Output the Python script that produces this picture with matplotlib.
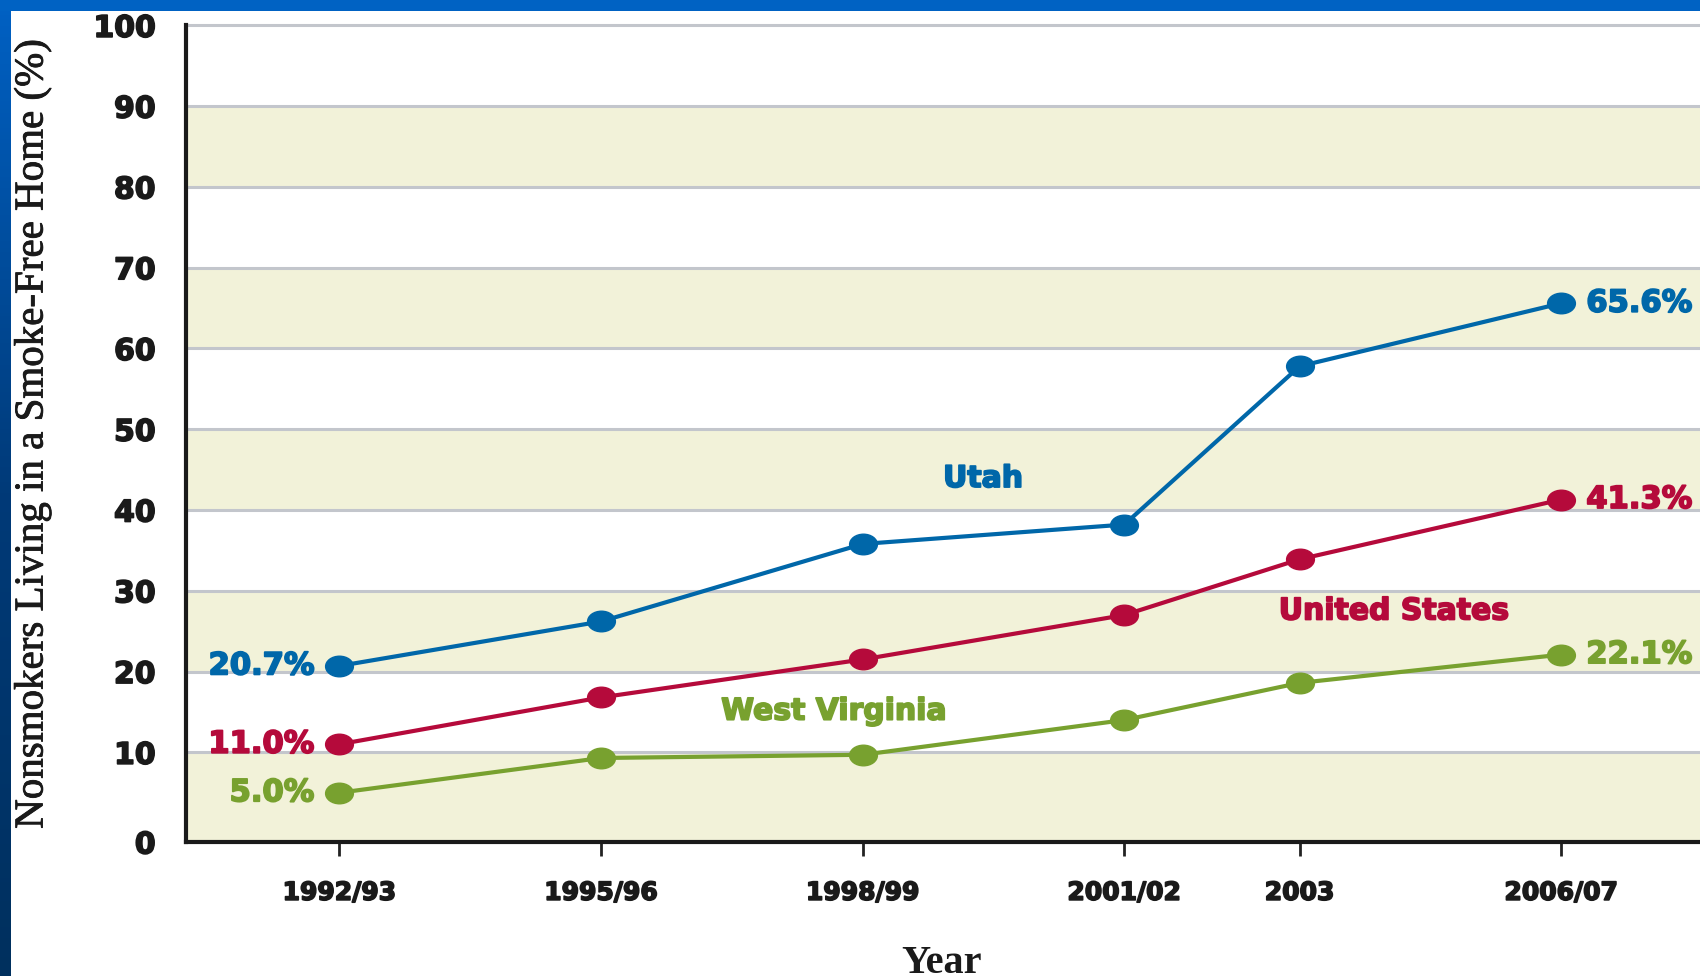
import matplotlib.patheffects as pe
import matplotlib.pyplot as plt
import numpy as np
from matplotlib.colors import LinearSegmentedColormap
from matplotlib.path import Path

plt.switch_backend("agg")

# data
periods = ["1992/93", "1995/96", "1998/99", "2001/02", "2003", "2006/07"]
utah = [20.7, 26.2, 35.8, 38.2, 57.8, 65.6]
usa = [11.0, 16.8, 21.5, 27.0, 33.9, 41.3]
wva = [5.0, 9.3, 9.7, 14.0, 18.6, 22.1]
yticks = [0, 10, 20, 30, 40, 50, 60, 70, 80, 90, 100]

# survey positions on the x axis (2003 sits closer to 2001/02)
xpos = [0, 1, 2, 3, 3.67, 4.67]
YLO = -1.1  # the bottom rule sits a little under zero

BLUE = "#0067A9"
RED = "#B50A3B"
GREEN = "#78A12F"
BEIGE = "#F2F2D9"
GRID = "#C3C6CC"


def heavy(color, w=1.3):
    # thicken DejaVu Bold a little so it reads like a black weight
    return [pe.withStroke(linewidth=w, foreground=color)]


# slightly flattened dot used on the lines
circ = Path.unit_circle()
ellipse = Path(circ.vertices * [1.35, 1.0], circ.codes)

fig = plt.figure(figsize=(17, 9.76), dpi=100)
fig.patch.set_facecolor("white")

# slide frame: blue bar on top, gradient strip on the left
top = fig.add_axes([0, 1 - 11 / 976, 1, 11 / 976])
top.set_facecolor("#0062C3")
top.set_xticks([])
top.set_yticks([])
for s in top.spines.values():
    s.set_visible(False)
left = fig.add_axes([0, 0, 11 / 1700, 1 - 11 / 976])
grad = np.linspace(0, 1, 256).reshape(-1, 1)
cmap = LinearSegmentedColormap.from_list("slide", ["#0060C2", "#003A78", "#00305E"])
left.imshow(grad, aspect="auto", cmap=cmap, extent=[0, 1, 0, 1], origin="upper")
left.axis("off")

ax = fig.add_axes([186 / 1700, 1 - 842 / 976, 1 - 186 / 1700, (842 - 25.4) / 976])
ax.set_xlim(-0.586, 5.2)
ax.set_ylim(YLO, 100)

# alternating bands and grid lines
for lo in range(0, 100, 20):
    ax.axhspan(lo if lo else YLO, lo + 10, color=BEIGE, lw=0, zorder=0)
for y in yticks[1:]:
    ax.axhline(y, color=GRID, lw=2.2, zorder=1, clip_on=False)

for vals, col in [(utah, BLUE), (usa, RED), (wva, GREEN)]:
    ax.plot(xpos, vals, color=col, lw=3, marker=ellipse, ms=20, zorder=3, clip_on=False)

lab = dict(fontsize=22, fontweight="bold", family="DejaVu Sans", va="center")
for vals, col in [(utah, BLUE), (usa, RED), (wva, GREEN)]:
    ax.annotate(f"{vals[0]:.1f}%", (xpos[0], vals[0]), xytext=(-25, 0),
                textcoords="offset pixels", ha="right", color=col,
                path_effects=heavy(col), **lab)
    ax.annotate(f"{vals[-1]:.1f}%", (xpos[-1], vals[-1]), xytext=(25, 0),
                textcoords="offset pixels", ha="left", color=col, annotation_clip=False,
                path_effects=heavy(col), **lab)

name = dict(lab, fontsize=21.5)
ax.text(2.46, 43.9, "Utah", color=BLUE, ha="center", path_effects=heavy(BLUE), **name)
ax.text(4.03, 27.5, "United States", color=RED, ha="center", path_effects=heavy(RED), **name)
ax.text(1.89, 15.1, "West Virginia", color=GREEN, ha="center", path_effects=heavy(GREEN), **name)

# the "0" label sits on the bottom rule
ax.set_yticks([YLO] + yticks[1:])
ax.set_yticklabels([str(v) for v in yticks], fontsize=21.5, fontweight="bold", family="DejaVu Sans")
ax.tick_params(axis="y", length=0, pad=22)
ax.set_xticks(xpos)
ax.set_xticklabels(periods, fontsize=18, fontweight="bold", family="DejaVu Sans")
ax.tick_params(axis="x", length=10, width=2, direction="out", pad=18, color="#222222")
for t in ax.get_yticklabels() + ax.get_xticklabels():
    t.set_color("#1a1a1a")
    t.set_path_effects(heavy("#1a1a1a", 1.2))

for side in ["top", "right"]:
    ax.spines[side].set_visible(False)
for side in ["left", "bottom"]:
    ax.spines[side].set_linewidth(3)
    ax.spines[side].set_color("#1a1a1a")
    ax.spines[side].set_zorder(4)

fig.text(33 / 1700, 1 - 434 / 976, "Nonsmokers Living in a Smoke-Free Home (%)",
         rotation=90, ha="center", va="center", fontsize=29.5, family="Liberation Serif",
         color="#1a1a1a", path_effects=heavy("#1a1a1a", 0.6))
fig.text(941 / 1700, 1 - 973 / 976, "Year", ha="center", va="baseline",
         fontsize=29, fontweight="bold", family="Liberation Serif", color="#1a1a1a")

fig.savefig("out.png", dpi=100)
